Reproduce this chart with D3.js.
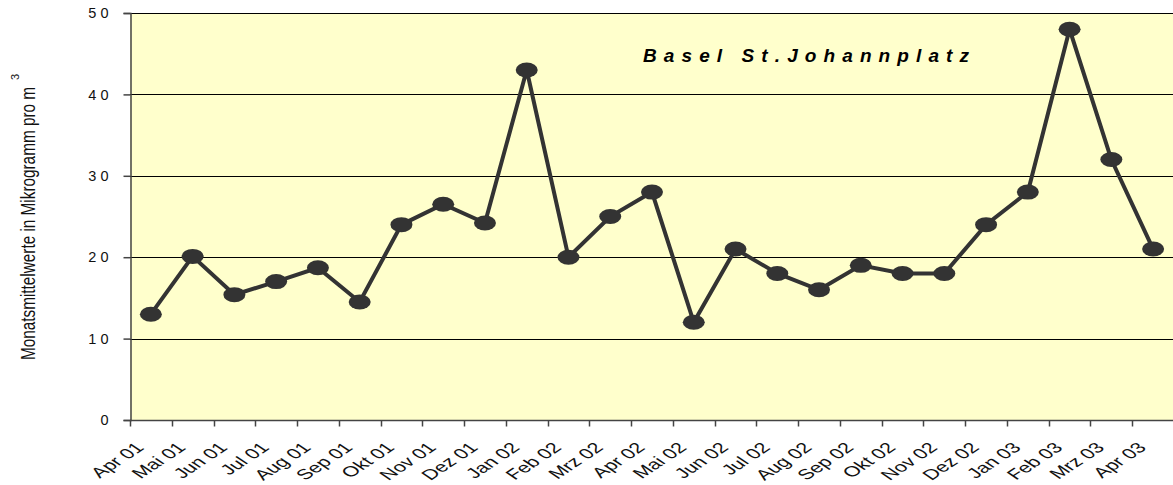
<!DOCTYPE html>
<html>
<head>
<meta charset="utf-8">
<script src="https://cdn.jsdelivr.net/npm/d3@7"></script>
<style>
body { margin: 0; background: #fff; }
svg { display: block; font-family: Arial, "Liberation Sans", sans-serif; }
</style>
</head>
<body>
<div id="chart"></div>
<script>
// monthly means, Basel St.Johannplatz
var months = ["Apr 01", "Mai 01", "Jun 01", "Jul 01", "Aug 01", "Sep 01", "Okt 01", "Nov 01",
    "Dez 01", "Jan 02", "Feb 02", "Mrz 02", "Apr 02", "Mai 02", "Jun 02", "Jul 02", "Aug 02",
    "Sep 02", "Okt 02", "Nov 02", "Dez 02", "Jan 03", "Feb 03", "Mrz 03", "Apr 03"];
var values = [13, 20.1, 15.4, 17, 18.7, 14.5, 24, 26.5, 24.2, 43, 20, 25, 28, 12, 21, 18, 16,
    19, 18, 18, 24, 28, 48, 32, 21];
var yTicks = [0, 10, 20, 30, 40, 50];

var width = 1173;
var height = 485;
var margin = {top: 13, right: 0, bottom: 65, left: 130};

var svg = d3.select('#chart')
    .append('svg')
    .attr('width', width)
    .attr('height', height);

var x = d3.scaleBand()
    .domain(months)
    .range([margin.left, width - margin.right + 1]);

var y = d3.scaleLinear()
    .domain([0, 50])
    .range([height - margin.bottom, margin.top]);

// plot background
svg.append('rect')
    .attr('x', margin.left)
    .attr('y', y(50))
    .attr('width', width - margin.left)
    .attr('height', y(0) - y(50))
    .attr('fill', '#ffffcc');

// gridlines
svg.selectAll('.grid')
    .data(yTicks.filter(function (d) { return d > 0; }))
    .enter()
    .append('line')
    .attr('x1', margin.left)
    .attr('x2', width)
    .attr('y1', function (d) { return Math.round(y(d)) + 0.5; })
    .attr('y2', function (d) { return Math.round(y(d)) + 0.5; })
    .attr('stroke', '#000')
    .attr('stroke-width', 1);

// y axis
var yAxis = svg.append('g')
    .attr('transform', 'translate(' + (margin.left + 0.5) + ',0)')
    .call(d3.axisLeft(y).tickValues(yTicks).tickSize(7).tickPadding(15)
        .tickFormat(function (d) { return String(d).split('').join(' '); }));
yAxis.select('.domain').attr('stroke', '#444').attr('stroke-width', 1.5);
yAxis.selectAll('.tick line').attr('stroke', '#444').attr('stroke-width', 1.5);
yAxis.selectAll('text')
    .attr('font-size', 14.5)
    .attr('fill', '#111')
    .style('font-family', 'Arial, "Liberation Sans", sans-serif');

// x axis: ticks at month boundaries
var xAxis = svg.append('g')
    .attr('transform', 'translate(0,' + (y(0) + 0.5) + ')');
xAxis.append('line')
    .attr('x1', margin.left)
    .attr('x2', width)
    .attr('stroke', '#444')
    .attr('stroke-width', 1.5);
xAxis.selectAll('.xtick')
    .data(months)
    .enter()
    .append('line')
    .attr('x1', function (d) { return Math.round(x(d)) + 0.5; })
    .attr('x2', function (d) { return Math.round(x(d)) + 0.5; })
    .attr('y1', 0)
    .attr('y2', 6)
    .attr('stroke', '#444')
    .attr('stroke-width', 1.5);
// labels are stretched sideways, as in the original picture
xAxis.selectAll('.xlabel')
    .data(months)
    .enter()
    .append('text')
    .attr('transform', function (d) {
        return 'translate(' + (x(d) + 15) + ',28) scale(1.5,1) rotate(-45)';
    })
    .attr('text-anchor', 'end')
    .attr('font-size', 14.5)
    .attr('fill', '#111')
    .text(function (d) { return d; });

// line and markers
var line = d3.line()
    .x(function (d, i) { return x(months[i]) + x.bandwidth() / 2; })
    .y(function (d) { return y(d); });

svg.append('path')
    .datum(values)
    .attr('d', line)
    .attr('fill', 'none')
    .attr('stroke', '#333333')
    .attr('stroke-width', 4)
    .attr('stroke-linejoin', 'miter');

svg.selectAll('.pt')
    .data(values)
    .enter()
    .append('ellipse')
    .attr('cx', function (d, i) { return x(months[i]) + x.bandwidth() / 2; })
    .attr('cy', function (d) { return y(d); })
    .attr('rx', 11)
    .attr('ry', 7.5)
    .attr('fill', '#333333');

// title
svg.append('text')
    .attr('x', 643)
    .attr('y', 62)
    .attr('font-size', 19)
    .attr('font-weight', 'bold')
    .attr('font-style', 'italic')
    .attr('letter-spacing', 7.1)
    .attr('fill', '#000')
    .text('Basel St.Johannplatz');

// y label (compressed like the original)
svg.append('text')
    .attr('transform', 'translate(35,360) rotate(-90)')
    .attr('text-anchor', 'start')
    .attr('font-size', 20)
    .attr('textLength', 273)
    .attr('lengthAdjust', 'spacingAndGlyphs')
    .attr('fill', '#111')
    .text('Monatsmittelwerte in Mikrogramm pro m');
svg.append('text')
    .attr('transform', 'translate(19,80) rotate(-90)')
    .attr('text-anchor', 'start')
    .attr('font-size', 11)
    .attr('fill', '#111')
    .text('3');
</script>
</body>
</html>
